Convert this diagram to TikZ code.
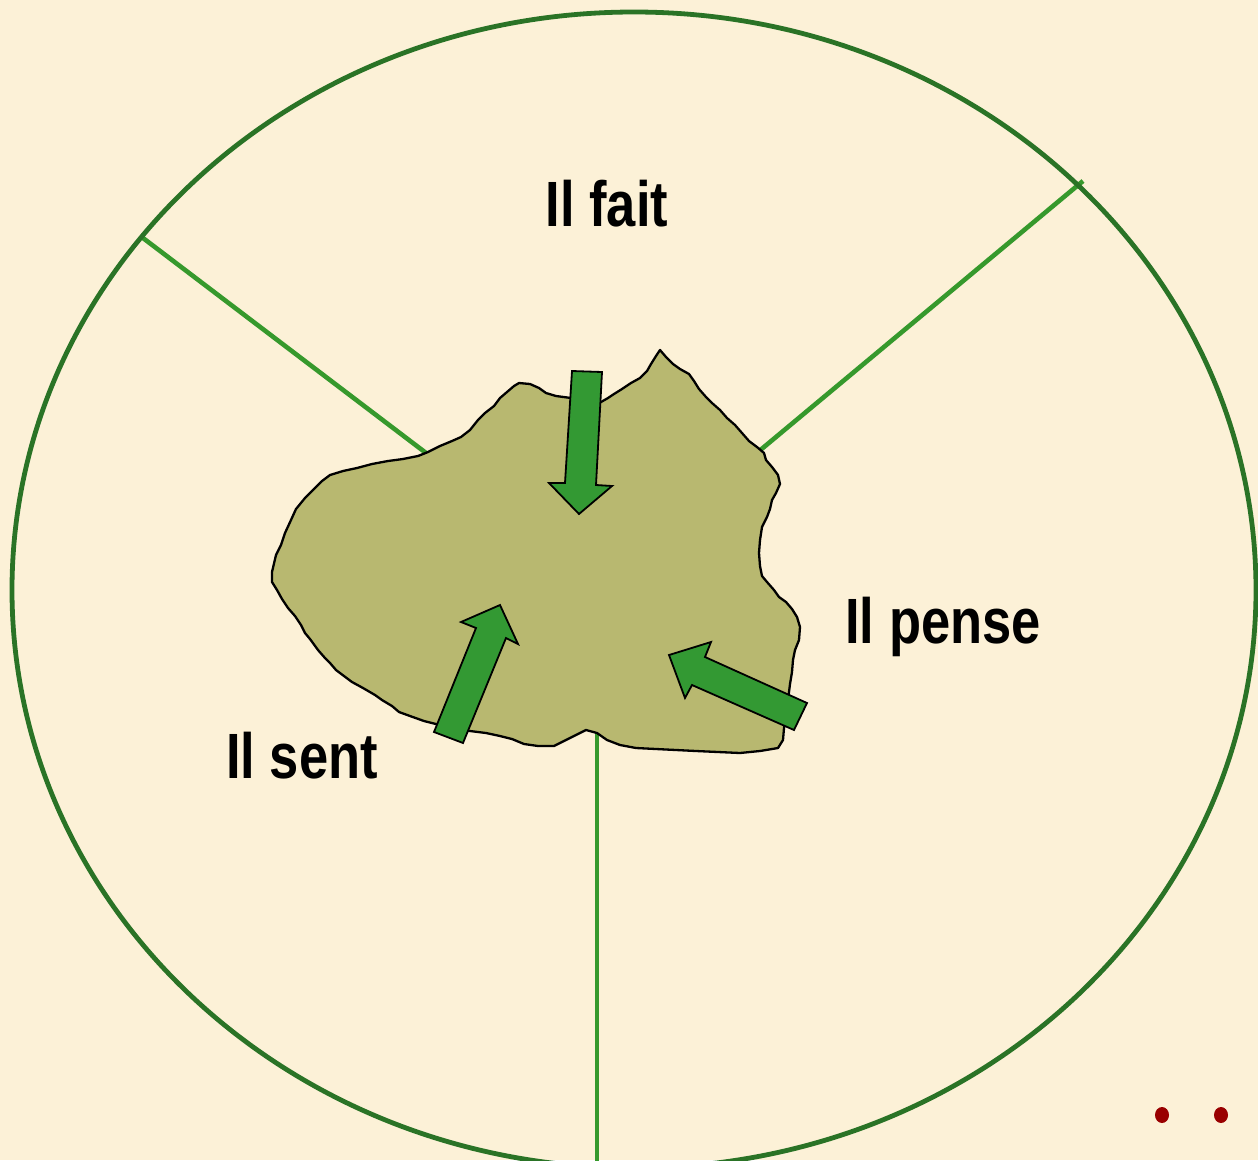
\documentclass[tikz,border=0pt]{standalone}
\usepackage{fontspec}
\setmainfont{Liberation Sans}
\definecolor{bg}{HTML}{FCF1D7}
\definecolor{ring}{HTML}{2A7326}
\definecolor{spoke}{HTML}{36992C}
\definecolor{blobfill}{HTML}{B8B870}
\definecolor{arrowgreen}{HTML}{339933}
\definecolor{dotred}{HTML}{990000}
\tikzset{
  ringline/.style={draw=ring,line width=4.8pt},
  spokeline/.style={draw=spoke,line width=4.6pt},
  blobshape/.style={draw=black,fill=blobfill,line width=2.3pt,line join=round},
  blockarrow/.style={draw=black,fill=arrowgreen,line width=1.8pt,line join=miter},
  label/.style={font=\fontsize{64}{70}\selectfont\bfseries,xscale=0.82,anchor=base,inner sep=0pt},
  reddot/.style={fill=dotred,draw=none}
}
\begin{document}
\begin{tikzpicture}[x=1pt,y=-1pt]
\useasboundingbox (0,0) rectangle (1258,1160);
\fill[bg] (0,0) rectangle (1258,1160);
\begin{scope}
\clip (0,0) rectangle (1258,1160);
% spokes
\coordinate (s1a) at (143,238); \coordinate (s1b) at (430,456);
\coordinate (s2a) at (1083,181); \coordinate (s2b) at (758,452);
\coordinate (s3a) at (597,728); \coordinate (s3b) at (597,1162);
\draw[spokeline] (s1a) -- (s1b);
\draw[spokeline] (s2a) -- (s2b);
\draw[spokeline] (s3a) -- (s3b);
% ring
\draw[ringline] (634,590) ellipse [x radius=622, y radius=578];
\end{scope}
% blob
\draw[blobshape] (272,572) -- (276,555) -- (281,545) -- (285,533) -- (291,520) -- (296,509) -- (305,498) -- (314,489) -- (322,481) -- (330,475) -- (343,471) -- (357,468) -- (372,464) -- (388,461) -- (403,459) -- (418,456) -- (428,452) -- (440,446) -- (452,441) -- (461,437) -- (470,430) -- (478,420) -- (485,413) -- (494,406) -- (500,398) -- (507,392) -- (514,386) -- (519,383) -- (530,384) -- (539,388) -- (546,393) -- (556,396) -- (571,398) -- (586,400) -- (601,402) -- (608,398) -- (614,394) -- (622,389) -- (631,383) -- (640,378) -- (647,371) -- (651,364) -- (656,356) -- (660,350) -- (666,357) -- (673,364) -- (680,369) -- (689,374) -- (694,381) -- (699,389) -- (706,397) -- (712,403) -- (720,410) -- (727,418) -- (735,425) -- (742,433) -- (749,441) -- (757,447) -- (764,453) -- (766,460) -- (772,467) -- (778,475) -- (780,484) -- (776,493) -- (772,500) -- (770,509) -- (767,517) -- (762,527) -- (760,540) -- (759,553) -- (760,566) -- (762,576) -- (767,582) -- (774,590) -- (779,597) -- (786,602) -- (792,609) -- (797,617) -- (800,627) -- (799,640) -- (795,650) -- (793,660) -- (792,672) -- (790,684) -- (788,700) -- (787,715) -- (784,728) -- (783,740) -- (778,748) -- (760,751) -- (740,753) -- (718,752) -- (696,751) -- (676,750) -- (656,749) -- (636,748) -- (620,745) -- (607,740) -- (597,733) -- (586,730) -- (576,735) -- (566,740) -- (554,746) -- (538,746) -- (524,744) -- (512,739) -- (500,736) -- (486,733) -- (470,731) -- (455,730) -- (440,725) -- (424,721) -- (410,716) -- (399,712) -- (392,706) -- (382,700) -- (375,695) -- (363,688) -- (352,682) -- (344,676) -- (336,670) -- (330,663) -- (325,658) -- (318,650) -- (310,639) -- (305,633) -- (301,625) -- (295,616) -- (288,608) -- (282,599) -- (277,590) -- (272,582) -- cycle;
% arrows
\draw[blockarrow] (572,371) -- (602,372) -- (596,485) -- (612,486) -- (579,514) -- (549,483) -- (565,483) -- cycle;
\draw[blockarrow] (434,732) -- (476,628) -- (461,622) -- (500,605) -- (518,644) -- (506,638) -- (463,743) -- cycle;
\draw[blockarrow] (807,703) -- (705,657) -- (711,642) -- (669,655) -- (685,698) -- (692,685) -- (794,730) -- cycle;
% labels
\node[label] (fait) at (607,226) {Il fait};
\node[label] (pense) at (943,643) {Il pense};
\node[label] (sent) at (302,778) {Il sent};
% dots
\fill[reddot] (1162,1115) ellipse [x radius=7, y radius=8];
\fill[reddot] (1221,1115) ellipse [x radius=7, y radius=8];
\end{tikzpicture}
\end{document}
